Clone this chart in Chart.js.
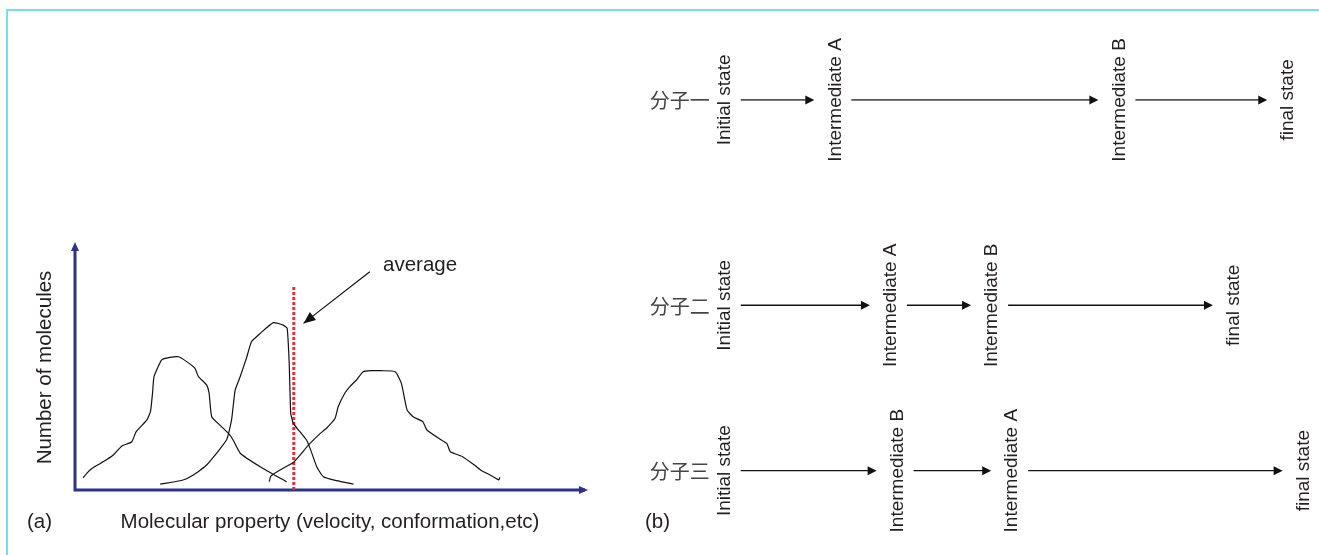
<!DOCTYPE html>
<html lang="en">
<head>
<meta charset="UTF-8" />
<title>Molecular property distribution and reaction pathways</title>
<script src="https://cdn.jsdelivr.net/npm/chart.js@4.4.0"></script>
<style>
  * { box-sizing: border-box; margin: 0; padding: 0; }
  body { width: 1319px; height: 555px; background: #fff; overflow: hidden; position: relative; }
  .frame {
    position: absolute; left: 6px; top: 9px; right: 0; bottom: 0;
    border-top: 2px solid #80d9f3; border-left: 2px solid #80d9f3;
  }
  .panel { position: absolute; top: 0; height: 555px; }
  #panelA { left: 0; width: 620px; }
  #panelB { left: 620px; width: 699px; }
</style>
</head>
<body>
<div class="frame"></div>
<div class="panel" id="panelA"><canvas id="distChart"></canvas></div>
<div class="panel" id="panelB"><canvas id="pathChart"></canvas></div>

<script>
// ---- panel (a): three hand-drawn distributions (arbitrary units 0-100)
const curveLeft = [[1.6,5.0],[2.3,6.8],[3.3,8.8],[5.6,11.6],[7.5,14.3],[9.2,18.0],[11.1,19.6],[12.0,23.8],
  [14.1,28.6],[14.8,32.0],[15.2,39.5],[15.5,46.3],[17.0,53.1],[18.6,54.1],[20.3,54.4],[21.9,52.4],
  [23.5,49.7],[24.2,46.3],[25.8,42.9],[26.3,39.5],[26.8,29.9],[28.4,26.5],[30.1,23.1],[31.0,20.4],
  [32.4,15.0],[36.3,9.5],[41.5,3.3]];
const curveMiddle = [[16.7,2.4],[21.2,4.1],[23.2,6.1],[25.8,10.2],[29.7,20.4],[30.7,28.6],[31.4,40.8],
  [32.4,46.3],[33.7,54.4],[34.6,60.5],[36.3,63.9],[38.9,68.3],[40.8,67.3],[41.6,66.0],[42.0,51.7],
  [42.3,31.3],[42.8,27.2],[44.1,23.8],[45.4,20.4],[46.1,17.0],[47.4,9.5],[48.7,5.4],[51.3,3.8],[54.6,2.4]];
const curveRight = [[38.1,3.4],[38.4,5.7],[40.2,8.2],[42.8,11.2],[45.8,18.4],[48.0,22.9],[49.3,25.2],
  [51.0,29.3],[51.6,34.0],[52.9,39.5],[53.9,42.2],[55.2,44.9],[56.5,48.3],[58.2,48.7],[60.0,48.7],
  [62.8,48.3],[64.0,43.5],[65.1,32.7],[66.3,29.9],[68.2,27.9],[69.0,24.5],[71.3,21.1],[72.9,19.0],
  [73.6,15.6],[76.0,13.6],[78.3,10.2],[79.5,8.2],[81.4,6.1],[83.1,4.1],[83.3,5.2]];
const averageX = 42.9;
const averageTop = 83;
const averageLabel = 'average';
const averageLabelAt = [60.4, 91.8];
const averageArrow = [[57.8, 89.1], [44.8, 68.0]];
const xTitle = 'Molecular property (velocity, conformation,etc)';
const yTitle = 'Number of molecules';

// ---- panel (b): three molecules, order of states along the path
const moleculeNames = ['分子一', '分子二', '分子三'];
const rowLevels = [82, 45, 15.2];
const pathStates = [
  ['Initial state', 'Intermediate A', 'Intermediate B', 'final state'],
  ['Initial state', 'Intermediate A', 'Intermediate B', 'final state'],
  ['Initial state', 'Intermediate B', 'Intermediate A', 'final state']
];
const pathSteps = [
  [12.5, 29.0, 71.4, 96.6],
  [12.5, 37.3, 52.4, 88.5],
  [12.5, 38.3, 55.4, 98.9]
];
const arrowColors = ['#555', '#111', '#111'];

const FONT = '"Liberation Sans", Arial, "Noto Sans CJK SC", sans-serif';
const CJK = '"Noto Sans CJK SC", sans-serif';
const INK = '#231f20';
const NAVY = '#2e3188';

const toXY = pts => pts.map(([x, y]) => ({ x, y }));

function arrowHead(ctx, x, y, angle, len, half) {
  ctx.save();
  ctx.translate(x, y);
  ctx.rotate(angle);
  ctx.beginPath();
  ctx.moveTo(0, 0);
  ctx.lineTo(-len, -half);
  ctx.lineTo(-len, half);
  ctx.closePath();
  ctx.fill();
  ctx.restore();
}

const baseOptions = {
  responsive: true,
  maintainAspectRatio: false,
  animation: false,
  events: [],
  plugins: { legend: { display: false }, tooltip: { enabled: false } },
  elements: { point: { radius: 0 } }
};

// axes, titles and the "average" callout for panel (a)
const panelAPlugin = {
  id: 'panelA',
  beforeDatasetsDraw(chart) {
    const { ctx, chartArea: a } = chart;
    ctx.save();
    ctx.strokeStyle = NAVY;
    ctx.fillStyle = NAVY;
    ctx.lineWidth = 3;
    ctx.beginPath();
    ctx.moveTo(a.left, a.top + 4);
    ctx.lineTo(a.left, a.bottom);
    ctx.lineTo(a.right, a.bottom);
    ctx.stroke();
    arrowHead(ctx, a.left, a.top - 3, -Math.PI / 2, 9, 4);
    arrowHead(ctx, a.right + 3, a.bottom, 0, 9, 4);
    ctx.restore();
  },
  afterDatasetsDraw(chart) {
    const { ctx, chartArea: a, scales: { x, y } } = chart;
    ctx.save();
    ctx.fillStyle = INK;
    ctx.font = '20.5px ' + FONT;
    ctx.textBaseline = 'middle';

    ctx.textAlign = 'left';
    ctx.fillText(averageLabel, x.getPixelForValue(averageLabelAt[0]), y.getPixelForValue(averageLabelAt[1]));

    const x0 = x.getPixelForValue(averageArrow[0][0]), y0 = y.getPixelForValue(averageArrow[0][1]);
    const x1 = x.getPixelForValue(averageArrow[1][0]), y1 = y.getPixelForValue(averageArrow[1][1]);
    ctx.strokeStyle = '#111';
    ctx.fillStyle = '#111';
    ctx.lineWidth = 1.2;
    ctx.beginPath();
    ctx.moveTo(x0, y0);
    ctx.lineTo(x1, y1);
    ctx.stroke();
    arrowHead(ctx, x1, y1, Math.atan2(y1 - y0, x1 - x0), 12, 5);

    ctx.fillStyle = INK;
    ctx.textAlign = 'center';
    ctx.fillText(xTitle, (a.left + a.right) / 2, a.bottom + 32);
    ctx.textAlign = 'left';
    ctx.fillText('(a)', a.left - 48, a.bottom + 32);

    ctx.translate(a.left - 30, (a.top + a.bottom) / 2);
    ctx.rotate(-Math.PI / 2);
    ctx.textAlign = 'center';
    ctx.fillText(yTitle, 0, 0);
    ctx.restore();
  }
};

new Chart(document.getElementById('distChart'), {
  type: 'line',
  data: {
    datasets: [
      { data: toXY(curveLeft), borderColor: '#111', borderWidth: 1.2, tension: 0.15, fill: false },
      { data: toXY(curveMiddle), borderColor: '#111', borderWidth: 1.2, tension: 0.15, fill: false },
      { data: toXY(curveRight), borderColor: '#111', borderWidth: 1.2, tension: 0.15, fill: false },
      {
        data: [{ x: averageX, y: 0 }, { x: averageX, y: averageTop }],
        borderColor: '#ec2d35', borderWidth: 3, borderDash: [3, 2], borderCapStyle: 'butt', fill: false
      }
    ]
  },
  options: {
    ...baseOptions,
    layout: { padding: { left: 75, right: 35, top: 245, bottom: 65 } },
    scales: {
      x: { type: 'linear', min: 0, max: 100, display: false },
      y: { type: 'linear', min: 0, max: 100, display: false }
    }
  },
  plugins: [panelAPlugin]
});

// labels and arrows for panel (b), placed on each row's points
const panelBPlugin = {
  id: 'panelB',
  afterDatasetsDraw(chart) {
    const { ctx, chartArea: a } = chart;
    ctx.save();
    chart.data.datasets.forEach((ds, i) => {
      const pts = chart.getDatasetMeta(i).data;
      ctx.fillStyle = '#444';
      ctx.font = '20px ' + CJK;
      ctx.textAlign = 'right';
      ctx.textBaseline = 'middle';
      ctx.fillText(moleculeNames[i], pts[0].x - 14, pts[0].y + 1);

      ctx.fillStyle = INK;
      ctx.font = '19px ' + FONT;
      ctx.textAlign = 'center';
      pts.forEach((p, j) => {
        ctx.save();
        ctx.translate(p.x + 1, p.y);
        ctx.rotate(-Math.PI / 2);
        ctx.fillText(pathStates[i][j], 0, 0);
        ctx.restore();
      });

      ctx.strokeStyle = arrowColors[i];
      ctx.fillStyle = '#111';
      ctx.lineWidth = i === 0 ? 1.6 : 1.3;
      for (let j = 0; j < pts.length - 1; j++) {
        const xs = pts[j].x + 17, xe = pts[j + 1].x - 20, yy = pts[j].y;
        ctx.beginPath();
        ctx.moveTo(xs, yy);
        ctx.lineTo(xe - 6, yy);
        ctx.stroke();
        arrowHead(ctx, xe, yy, 0, 9, 4.5);
      }
    });
    ctx.fillStyle = INK;
    ctx.font = '20.5px ' + FONT;
    ctx.textAlign = 'left';
    ctx.textBaseline = 'middle';
    ctx.fillText('(b)', a.left + 5, 522);
    ctx.restore();
  }
};

new Chart(document.getElementById('pathChart'), {
  type: 'scatter',
  data: {
    datasets: pathSteps.map((steps, i) => ({
      data: steps.map(x => ({ x, y: rowLevels[i] })),
      pointRadius: 0,
      showLine: false
    }))
  },
  options: {
    ...baseOptions,
    layout: { padding: { left: 20, right: 9, top: 0, bottom: 0 } },
    scales: {
      x: { type: 'linear', min: 0, max: 100, display: false },
      y: { type: 'linear', min: 0, max: 100, display: false }
    }
  },
  plugins: [panelBPlugin]
});
</script>
</body>
</html>
